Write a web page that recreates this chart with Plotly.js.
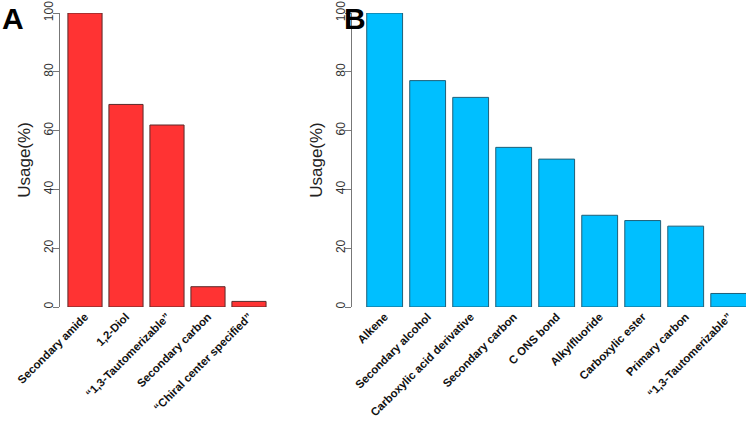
<!DOCTYPE html>
<html>
<head>
<meta charset="utf-8">
<script src="https://cdn.plot.ly/plotly-3.0.1.min.js"></script>
<style>
  html, body { margin: 0; padding: 0; background: #fff; }
  #chart { width: 746px; height: 422px; }
</style>
</head>
<body>
<div id="chart"></div>
<script>
// panel A
const namesA = ['Secondary amide', '1,2-Diol', '\u201c1,3-Tautomerizable\u201d', 'Secondary carbon', '\u201cChiral center specified\u201d'];
const usageA = [100, 68.9, 61.9, 6.9, 1.9];

// panel B
const namesB = ['Alkene', 'Secondary alcohol', 'Carboxylic acid derivative', 'Secondary carbon', 'C ONS bond',
    'Alkylfluoride', 'Carboxylic ester', 'Primary carbon', '\u201c1,3-Tautomerizable\u201d'];
const usageB = [100, 77.0, 71.3, 54.3, 50.3, 31.2, 29.4, 27.5, 4.6];

const yticks = [0, 20, 40, 60, 80, 100];

const font = 'Liberation Sans, Arial, sans-serif';

const data = [
    {
        x: namesA,
        y: usageA,
        type: 'bar',
        xaxis: 'x',
        yaxis: 'y',
        marker: { color: '#ff3333', line: { color: '#5a2a2a', width: 1 } },
        hoverinfo: 'x+y'
    },
    {
        x: namesB,
        y: usageB,
        type: 'bar',
        xaxis: 'x2',
        yaxis: 'y2',
        marker: { color: '#00bfff', line: { color: '#1f5f78', width: 1 } },
        hoverinfo: 'x+y'
    }
];

// plot area runs from 13px to 307px down the page
const yDomain = [(422 - 307) / 422, (422 - 13) / 422];

function yaxis(anchor) {
    return {
        anchor: anchor,
        domain: yDomain,
        range: [0, 100],
        tickvals: yticks,
        ticktext: yticks.map(String),
        tickangle: -90,
        ticks: 'outside',
        ticklen: 6,
        tickcolor: '#777',
        ticklabelstandoff: -5,
        ticklabeloverflow: 'allow',
        showline: true,
        linecolor: '#777',
        linewidth: 1,
        showgrid: false,
        zeroline: false,
        tickfont: { family: font, size: 12, color: '#333' },
        title: { text: 'Usage(%)', font: { family: font, size: 17, color: '#222' }, standoff: 7 }
    };
}

function xaxis(anchor, domain, range) {
    return {
        anchor: anchor,
        domain: domain,
        range: range,
        type: 'category',
        tickangle: -45,
        ticks: '',
        showline: false,
        showgrid: false,
        zeroline: false,
        tickfont: { family: font, size: 11.4, color: '#111', weight: 'bold' }
    };
}

const layout = {
    width: 746,
    height: 422,
    margin: { l: 0, r: 0, t: 0, b: 0 },
    paper_bgcolor: '#fff',
    plot_bgcolor: '#fff',
    showlegend: false,
    bargap: 0.167,
    xaxis: xaxis('y', [0.0804, 0.3686], [-0.61, 4.634]),
    yaxis: yaxis('x'),
    xaxis2: xaxis('y2', [0.4718, 1.0], [-0.76, 8.402]),
    yaxis2: yaxis('x2'),
    annotations: [
        {
            text: 'A', xref: 'paper', yref: 'paper', x: 0.0, y: 1.0,
            xanchor: 'left', yanchor: 'top', showarrow: false,
            font: { family: font, size: 30, color: '#000', weight: 'bold' }
        },
        {
            text: 'B', xref: 'paper', yref: 'paper', x: 342 / 746, y: 1.0,
            xanchor: 'left', yanchor: 'top', showarrow: false,
            font: { family: font, size: 30, color: '#000', weight: 'bold' }
        }
    ]
};

Plotly.newPlot('chart', data, layout, { displayModeBar: false, staticPlot: true });
</script>
</body>
</html>
